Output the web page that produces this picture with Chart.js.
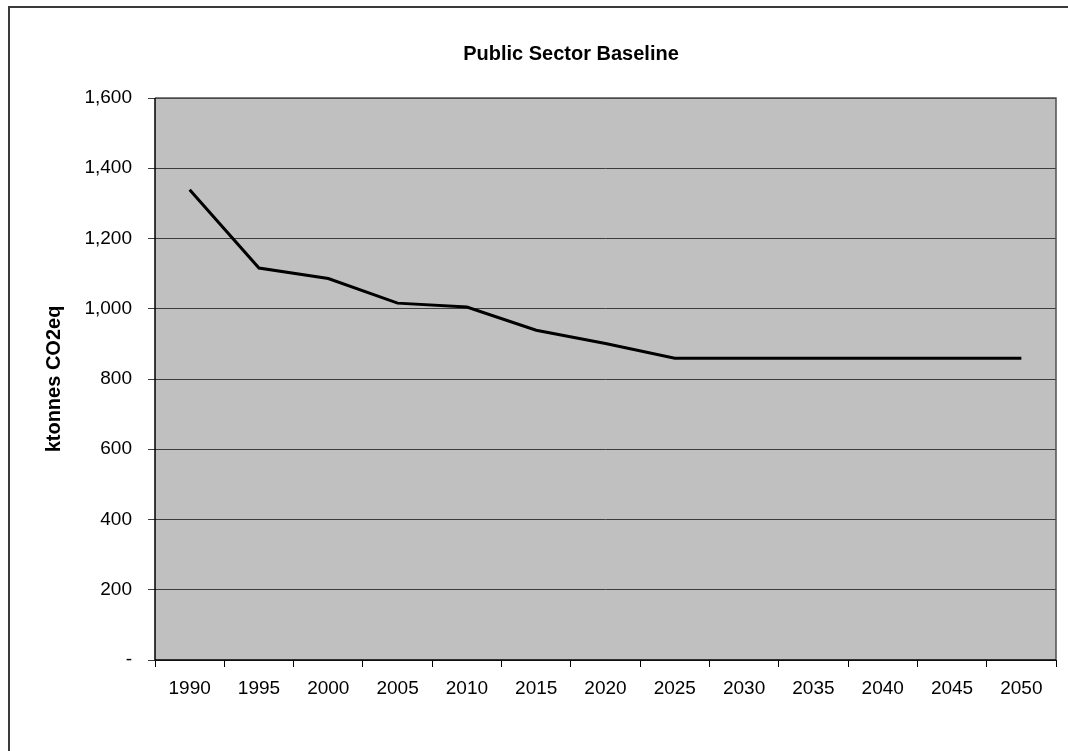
<!DOCTYPE html>
<html>
<head>
<meta charset="utf-8">
<script src="https://cdn.jsdelivr.net/npm/chart.js@4.4.1/dist/chart.umd.min.js"></script>
<style>
  html, body { margin: 0; padding: 0; background: #ffffff; }
  #wrap { position: relative; width: 1068px; height: 751px; }
</style>
</head>
<body>
<div id="wrap"><canvas id="chart" width="1068" height="751"></canvas></div>
<script>
// Public sector baseline emissions, ktonnes CO2eq
const years = ['1990', '1995', '2000', '2005', '2010', '2015', '2020', '2025', '2030', '2035', '2040', '2045', '2050'];
const emissions = [1339, 1116, 1086, 1016, 1005, 939, 901, 859, 859, 859, 859, 859, 859];
const yMin = 0;
const yMax = 1600;
const yStep = 200;

const FONT = '"Liberation Sans", Arial, sans-serif';

// Grey plot background with a thin border on the top and right edges
const plotArea = {
  id: 'plotArea',
  beforeDraw(chart) {
    const { ctx, chartArea: a } = chart;
    ctx.save();
    ctx.fillStyle = '#c0c0c0';
    ctx.fillRect(a.left, a.top, a.right - a.left, a.bottom - a.top);
    ctx.restore();
  },
  afterDatasetsDraw(chart) {
    const { ctx, chartArea: a } = chart;
    ctx.save();
    ctx.lineWidth = 1.5;
    ctx.strokeStyle = '#505050';
    ctx.beginPath();
    ctx.moveTo(a.left, a.top);
    ctx.lineTo(a.right, a.top);
    ctx.lineTo(a.right, a.bottom);
    ctx.stroke();
    ctx.strokeStyle = '#000000';
    ctx.beginPath();
    ctx.moveTo(a.left, a.top);
    ctx.lineTo(a.left, a.bottom);
    ctx.lineTo(a.right, a.bottom);
    ctx.stroke();
    ctx.restore();
  }
};

// Outer frame around the whole chart
const frame = {
  id: 'frame',
  afterDraw(chart) {
    const { ctx, width, height } = chart;
    ctx.save();
    ctx.lineWidth = 2;
    ctx.strokeStyle = '#3a3a3a';
    ctx.beginPath();
    ctx.moveTo(9, height + 2);
    ctx.lineTo(9, 7);
    ctx.lineTo(width + 2, 7);
    ctx.stroke();
    ctx.restore();
  }
};

new Chart(document.getElementById('chart'), {
  type: 'line',
  data: {
    labels: years,
    datasets: [{
      data: emissions,
      borderColor: '#000000',
      borderWidth: 3,
      pointRadius: 0,
      tension: 0,
      fill: false
    }]
  },
  options: {
    responsive: false,
    animation: false,
    layout: { padding: { left: 86, right: 12, top: 0, bottom: 0 } },
    plugins: {
      legend: { display: false },
      tooltip: { enabled: false },
      title: {
        display: true,
        text: 'Public Sector Baseline',
        color: '#000000',
        font: { family: FONT, size: 20, weight: 'bold', lineHeight: 1.2 },
        padding: { top: 42.5, bottom: 31.5 }
      }
    },
    scales: {
      x: {
        type: 'category',
        offset: true,
        grid: {
          offset: true,
          drawOnChartArea: false,
          drawTicks: true,
          tickLength: 7,
          color: '#000000',
          lineWidth: 1
        },
        border: { display: false },
        ticks: {
          color: '#000000',
          font: { family: FONT, size: 19 },
          padding: 10,
          maxRotation: 0,
          autoSkip: false
        },
        afterFit(scale) { scale.height = 91; }
      },
      y: {
        min: yMin,
        max: yMax,
        grid: {
          color: '#3c3c3c',
          lineWidth: 1,
          drawTicks: true,
          tickLength: 7
        },
        border: { display: false },
        ticks: {
          stepSize: yStep,
          color: '#000000',
          font: { family: FONT, size: 19 },
          padding: 16,
          callback: (v) => v === 0 ? '-' : v.toLocaleString('en-US')
        },
        title: {
          display: true,
          text: 'ktonnes CO2eq',
          color: '#000000',
          font: { family: FONT, size: 20, weight: 'bold', lineHeight: 1.2 },
          padding: { top: -44, bottom: 0 }
        },
        afterFit(scale) { scale.width = 69; }
      }
    }
  },
  plugins: [plotArea, frame]
});
</script>
</body>
</html>
